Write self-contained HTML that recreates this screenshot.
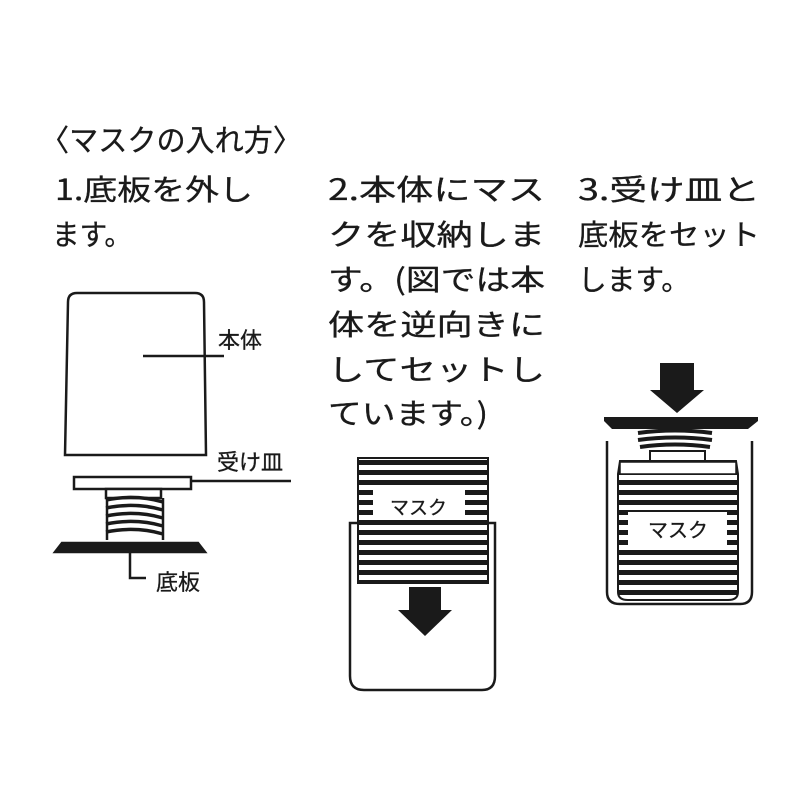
<!DOCTYPE html>
<html><head><meta charset="utf-8"><style>
html,body{margin:0;padding:0;background:#fff;}
svg{display:block}
text{font-family:"Noto Sans CJK JP","Liberation Sans",sans-serif;fill:#1a1a1a;font-weight:normal;stroke:#1a1a1a;stroke-width:0.3;}
</style></head><body>
<svg width="800" height="800" viewBox="0 0 800 800" xmlns="http://www.w3.org/2000/svg">
<defs>
<pattern id="st" x="0" y="0" width="10" height="10" patternUnits="userSpaceOnUse">
<rect width="10" height="10" fill="#fff"/><rect y="0" width="10" height="5" fill="#1a1a1a"/>
</pattern>
</defs>
<g font-size="29">
<text x="40" y="151" font-size="30" textLength="262" lengthAdjust="spacingAndGlyphs">〈マスクの入れ方〉</text>
<text x="55" y="200" textLength="198" lengthAdjust="spacingAndGlyphs">1.底板を外し</text>
<text x="52" y="245" textLength="80" lengthAdjust="spacingAndGlyphs">ます。</text>

<text x="328" y="200" textLength="217" lengthAdjust="spacingAndGlyphs">2.本体にマス</text>
<text x="328" y="245" textLength="217" lengthAdjust="spacingAndGlyphs">クを収納しま</text>
<text x="328" y="290" textLength="217" lengthAdjust="spacingAndGlyphs">す。(図では本</text>
<text x="328" y="335" textLength="217" lengthAdjust="spacingAndGlyphs">体を逆向きに</text>
<text x="328" y="380" textLength="217" lengthAdjust="spacingAndGlyphs">してセットし</text>
<text x="328" y="424" textLength="160" lengthAdjust="spacingAndGlyphs">ています。)</text>

<text x="578" y="200" textLength="182" lengthAdjust="spacingAndGlyphs">3.受け皿と</text>
<text x="578" y="245" textLength="182" lengthAdjust="spacingAndGlyphs">底板をセット</text>
<text x="578" y="290" textLength="112" lengthAdjust="spacingAndGlyphs">します。</text>
</g>

<!-- Figure 1 -->
<g stroke="#1a1a1a" stroke-width="2.5" fill="#fff">
<path d="M65 455 L68 302 Q68 293 77 293 L195 293 Q204 293 204 302 L206 455 Z"/>
<line x1="143" y1="356" x2="224" y2="356"/>
<line x1="191" y1="481" x2="291" y2="481"/>
<rect x="74" y="477" width="117" height="12"/>
<rect x="106" y="489" width="55" height="9"/>
<path d="M106 500 Q135 494 163 502 M106 508 Q135 502 163 510 M106 516 Q135 510 163 518 M106 524 Q135 518 163 526 M106 532 Q135 526 163 534" fill="none" stroke-width="3.5"/>
<line x1="107" y1="498" x2="107" y2="540"/><line x1="163" y1="498" x2="163" y2="540"/>
<path d="M55 552 L62 543 L198 543 L205 552 Z" fill="#1a1a1a"/>
<polyline points="130,553 130,578 146,578" fill="none"/>
</g>
<g font-size="22">
<text x="218" y="348">本体</text>
<text x="217" y="470">受け皿</text>
<text x="156" y="590">底板</text>
</g>

<!-- Figure 2 -->
<rect x="358" y="458" width="130" height="125" fill="url(#st)" stroke="#1a1a1a" stroke-width="2"/>
<rect x="373" y="490" width="92" height="30" fill="#fff"/>
<text x="390" y="514" font-size="19">マスク</text>
<path d="M350 523 L350 676 Q350 690 364 690 L482 690 Q495 690 495 676 L495 523 Z" fill="none" stroke="#1a1a1a" stroke-width="2.5"/>
<path d="M409 587 L441 587 L441 610 L452 610 L425 636 L398 610 L409 610 Z" fill="#1a1a1a"/>

<!-- Figure 3 -->
<path d="M660 363 L694 363 L694 390 L704 390 L677 413 L650 390 L660 390 Z" fill="#1a1a1a"/>
<path d="M604 417 L758 417 L758 421 L748 429 L612 429 L604 421 Z" fill="#1a1a1a"/>
<path d="M638 433 Q675 428 712 433 M638 440 Q675 435 712 440 M640 447 Q675 442 710 447" fill="none" stroke="#1a1a1a" stroke-width="4"/>
<path d="M607 441 L607 592 Q607 604 620 604 L740 604 Q752 604 752 592 L752 441" fill="none" stroke="#1a1a1a" stroke-width="2.5"/>
<rect x="650" y="451" width="55" height="10" fill="#fff" stroke="#1a1a1a" stroke-width="2"/>
<path d="M620 461 L736 461 L738 474 L738 592 Q738 600 728 600 L628 600 Q618 600 618 592 L618 474 Z" fill="url(#st)" stroke="#1a1a1a" stroke-width="2"/>
<rect x="620" y="462" width="116" height="12" fill="#fff" stroke="#1a1a1a" stroke-width="1.5"/>
<rect x="628" y="512" width="99" height="33" fill="#fff"/>
<text x="648" y="537" font-size="20">マスク</text>
</svg>
</body></html>
